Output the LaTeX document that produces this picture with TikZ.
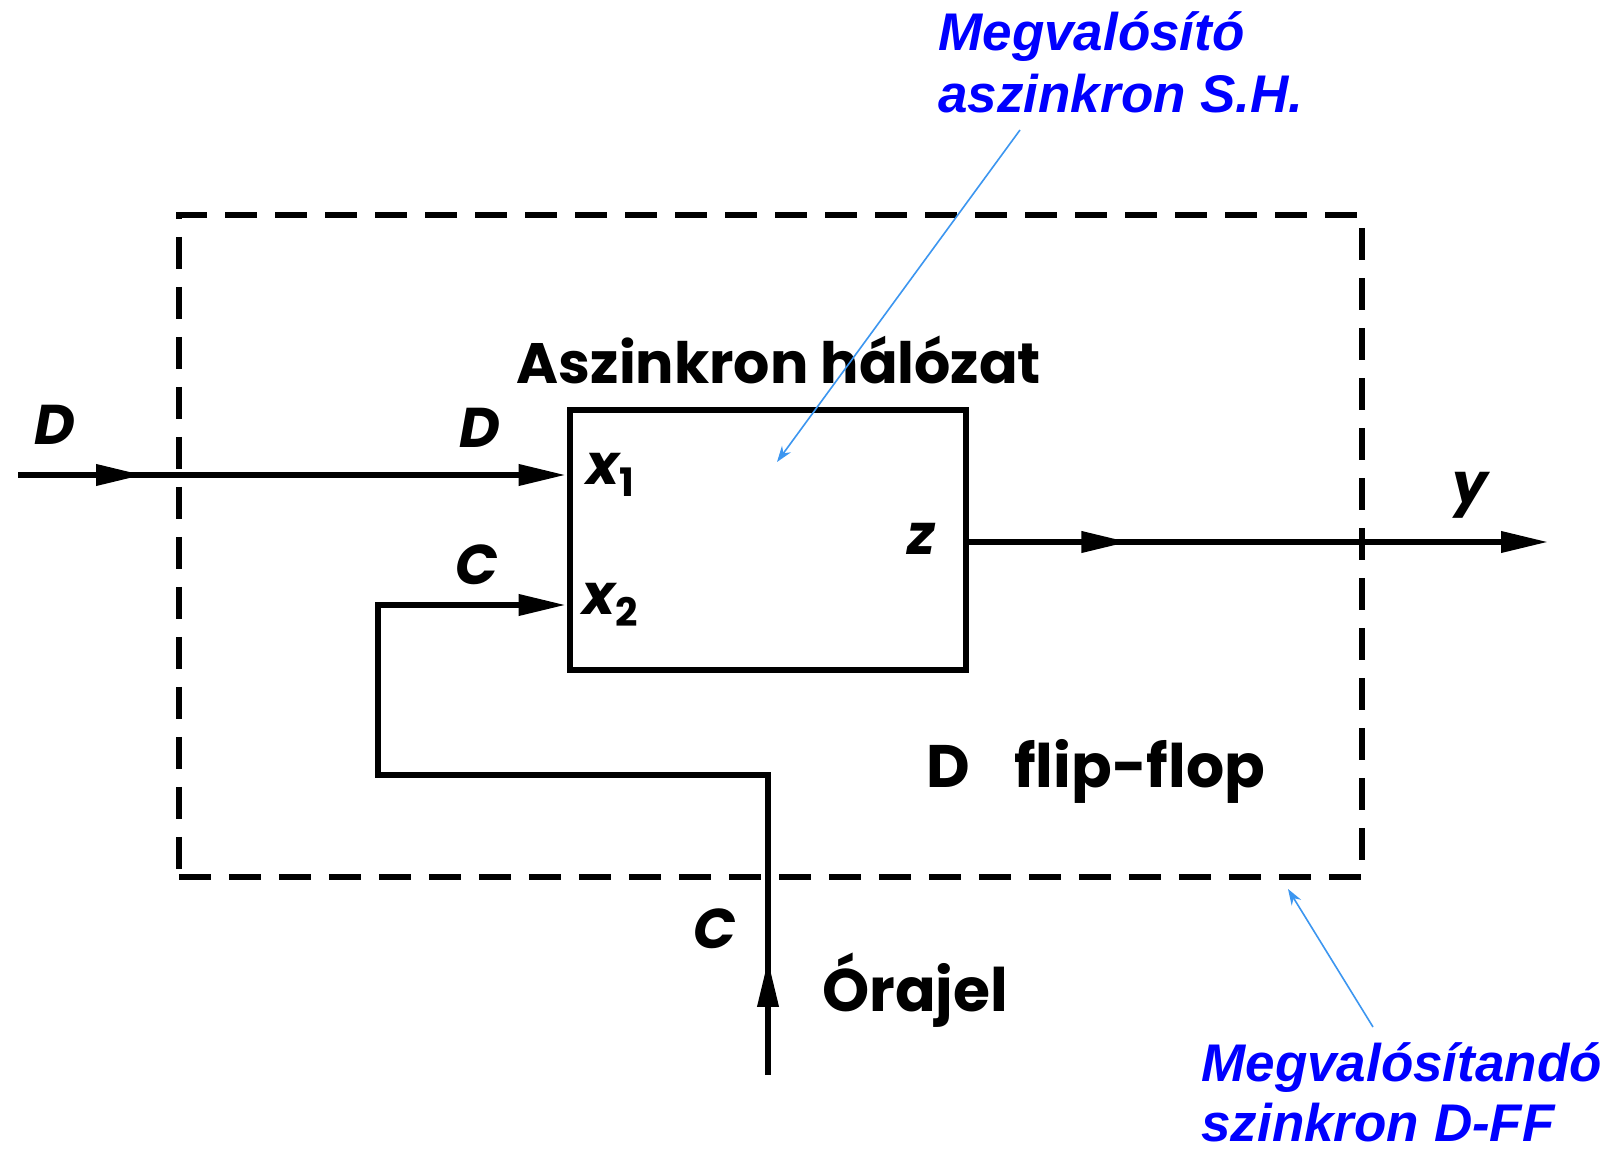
\documentclass[tikz,border=0pt]{standalone}
\usepackage{fontspec}
\usetikzlibrary{arrows.meta,decorations.markings}
\newfontfamily\hand{Poppins}
\newfontfamily\blu{Liberation Sans}
\definecolor{blutext}{RGB}{0,0,255}
\definecolor{bluarrow}{RGB}{60,150,240}
\begin{document}
\begin{tikzpicture}[x=0.5pt,y=-0.5pt,
  wire/.style={line width=3.4pt},
  headtip/.style={-{Triangle[length=24pt,width=10pt]}},
  midarrow/.style={postaction={decorate},decoration={markings,
     mark=at position #1 with {\arrow{Triangle[length=24pt,width=10pt]}}}},
  lbl/.style={inner sep=0pt,font=\hand\bfseries\fontsize{30}{34}\selectfont},
  ilbl/.style={inner sep=0pt,font=\hand\bfseries\itshape\fontsize{28}{30}\selectfont},
  blulbl/.style={inner sep=0pt,anchor=base west,text=blutext,font=\blu\bfseries\itshape\fontsize{26.5}{31}\selectfont},
  bluarr/.style={draw=bluarrow,line width=0.8pt,-{Stealth[length=8pt,width=5.5pt]}}]
\useasboundingbox (0,0) rectangle (1603,1149);
\fill[white] (0,0) rectangle (1603,1149);

% outer dashed frame (D flip-flop)
\node[draw,line width=3pt,dash pattern=on 16pt off 9pt,minimum width=591.5pt,minimum height=331pt,inner sep=0pt,outer sep=0pt] (ff) at (770.5,546) {};
% inner box (asynchronous network)
\node[draw,line width=3.4pt,minimum width=198pt,minimum height=130pt,inner sep=0pt] (hn) at (768,540) {};

\coordinate (din) at (18,475);
\coordinate (yout) at (1549,542);
\coordinate (clk) at (768,1075);
\coordinate (c1) at (768,775);
\coordinate (c2) at (378,775);
\coordinate (c3) at (378,605);

\draw[wire,midarrow=63pt,headtip] (din) -- (din -| hn.west);
\draw[wire,midarrow=80pt,headtip] (hn.east |- yout) -- (yout);
\draw[wire,midarrow=58pt,headtip] (clk) -- (c1) -- (c2) -- (c3) -- (c3 -| hn.west);

% labels
\node[lbl,font=\hand\bfseries\fontsize{28.5}{34}\selectfont] (tah) at (779,360) {Aszinkron hálózat};
\node[lbl] (tdff) at (1096,771) {D\hspace{22pt}flip-flop};
\node[lbl,anchor=base west] (tor) at (822,1012) {Órajel};
\node[ilbl] (tD1) at (55,425) {D};
\node[ilbl] (tD2) at (480,428) {D};
\node[ilbl] (tC1) at (477,565) {C};
\node[ilbl] (tC2) at (715,929) {C};
\node[ilbl] (tx1) at (611,475) {x\textsubscript{\upshape 1}};
\node[ilbl] (tx2) at (611,605) {x\textsubscript{\upshape 2}};
\node[ilbl] (tz) at (921,539) {z};
\node[ilbl] (ty) at (1470,495) {y};

% blue annotations
\node[blulbl] (b1a) at (938,51) {Megvalósító};
\node[blulbl] (b1b) at (938,113) {aszinkron S.H.};
\node[blulbl] (b2a) at (1201,1081) {Megvalósítandó};
\node[blulbl] (b2b) at (1201,1141) {szinkron D-FF};

\coordinate (p1s) at (1020,130);
\coordinate (p1e) at (777,462);
\coordinate (p2s) at (1373,1027);
\coordinate (p2e) at (1288,889);
\draw[bluarr] (p1s) -- (p1e);
\draw[bluarr] (p2s) -- (p2e);
\end{tikzpicture}
\end{document}
